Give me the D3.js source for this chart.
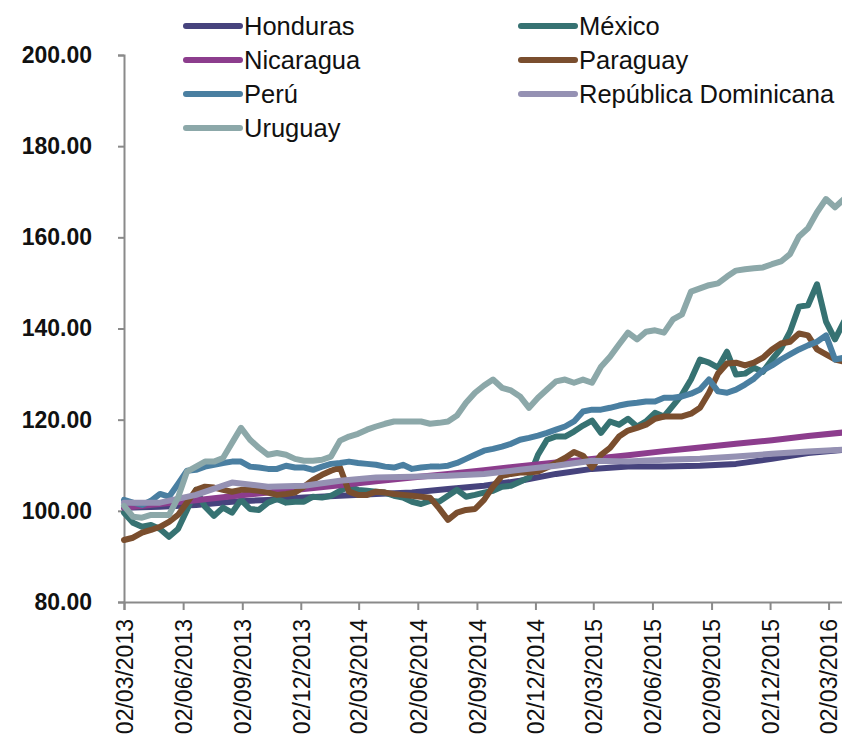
<!DOCTYPE html>
<meta charset="utf-8">
<body style="margin:0;background:#fff">
<script src="https://cdn.jsdelivr.net/npm/d3@7/dist/d3.min.js"></script>
<script>

// Two-week sampling for the noisy series, eight-week sampling for the smooth ones.
var startDate = new Date(2013, 2, 2);
var dates = d3.range(81).map(function(i) { return d3.timeDay.offset(startDate, i * 14); });
var smoothDates = d3.range(21).map(function(i) { return d3.timeDay.offset(startDate, i * 56); });

var tickLabels = ["02/03/2013", "02/06/2013", "02/09/2013", "02/12/2013",
                  "02/03/2014", "02/06/2014", "02/09/2014", "02/12/2014",
                  "02/03/2015", "02/06/2015", "02/09/2015", "02/12/2015",
                  "02/03/2016"];

var honduras = [100.7, 100.9, 101.3, 102.0, 102.4, 102.9, 103.3, 103.7, 104.0, 104.8, 105.5,
                106.6, 108.1, 109.2, 109.7, 109.7, 109.9, 110.3, 111.4, 112.7, 113.4];

var mexico = [99.6, 97.4, 96.5, 96.9, 96.0, 94.3, 96.0, 100.2, 104.6, 100.9,
              98.9, 100.7, 99.6, 102.4, 100.4, 100.2, 101.8, 102.6, 101.8, 102.0,
              102.0, 103.1, 102.9, 103.3, 104.4, 105.3, 104.6, 104.4, 104.2, 104.0,
              103.3, 102.9, 102.0, 101.5, 102.2, 102.0, 103.3, 104.6, 103.1, 103.5,
              104.0, 104.4, 105.3, 105.5, 106.4, 107.3, 112.3, 115.6, 116.3, 116.3,
              117.4, 118.7, 119.8, 117.1, 119.6, 118.9, 120.2, 118.5, 119.6, 121.5,
              120.7, 123.1, 125.5, 128.8, 133.2, 132.5, 131.4, 134.9, 129.9, 130.1,
              131.4, 130.5, 133.2, 135.6, 139.3, 144.8, 145.1, 149.7, 141.5, 137.6,
              141.5];

var nicaragua = [100.7, 101.5, 102.3, 103.2, 104.0, 104.8, 105.6, 106.5, 107.3, 108.1, 108.9,
                 109.8, 110.6, 111.4, 112.2, 113.1, 113.9, 114.7, 115.5, 116.4, 117.2];

var paraguay = [93.6, 94.1, 95.2, 95.8, 96.5, 97.6, 99.1, 101.8, 104.6, 105.3,
                105.1, 104.6, 104.2, 104.6, 104.6, 104.4, 104.0, 103.5, 103.7, 104.0,
                105.3, 106.8, 107.9, 108.8, 109.5, 104.2, 103.5, 103.5, 104.2, 104.0,
                103.7, 103.5, 103.3, 103.1, 102.9, 100.6, 98.0, 99.6, 100.2, 100.4,
                102.4, 105.3, 107.7, 108.1, 108.4, 108.4, 108.6, 109.5, 110.5, 111.6,
                112.9, 112.1, 109.5, 112.3, 113.8, 116.3, 117.6, 118.2, 118.9, 120.2,
                120.7, 120.7, 120.7, 121.3, 122.6, 125.9, 130.1, 132.3, 132.5, 131.9,
                132.5, 133.6, 135.4, 136.7, 137.1, 138.9, 138.5, 135.4, 134.3, 133.2,
                132.7];

var peru = [102.4, 101.8, 101.3, 102.2, 103.7, 103.1, 105.9, 108.8, 109.0, 109.7,
            110.1, 110.5, 110.8, 110.8, 109.7, 109.5, 109.2, 109.2, 109.9, 109.5,
            109.5, 109.0, 109.7, 110.3, 110.5, 110.8, 110.5, 110.3, 110.1, 109.7,
            109.5, 110.1, 109.2, 109.5, 109.7, 109.7, 109.9, 110.5, 111.4, 112.3,
            113.2, 113.6, 114.1, 114.7, 115.6, 116.0, 116.5, 117.1, 117.8, 118.5,
            119.6, 121.8, 122.2, 122.2, 122.6, 123.1, 123.5, 123.7, 124.0, 124.0,
            124.8, 124.8, 125.1, 125.7, 126.6, 128.8, 126.2, 125.9, 126.6, 127.7,
            129.0, 130.8, 131.9, 133.2, 134.3, 135.4, 136.3, 137.1, 138.5, 133.2,
            133.6];

var repDominicana = [101.8, 101.8, 103.5, 106.2, 105.3, 105.5, 106.6, 107.3, 107.5, 107.7, 108.1,
                     109.0, 109.9, 111.0, 110.8, 111.2, 111.4, 111.9, 112.5, 113.0, 113.4];

var uruguay = [101.1, 98.7, 98.5, 99.1, 99.1, 99.1, 102.9, 108.6, 109.7, 110.8,
               110.8, 111.6, 114.9, 118.2, 115.6, 113.8, 112.3, 112.7, 112.3, 111.4,
               111.0, 111.0, 111.2, 111.9, 115.4, 116.3, 116.9, 117.8, 118.5, 119.1,
               119.6, 119.6, 119.6, 119.6, 119.1, 119.3, 119.6, 120.9, 123.7, 125.9,
               127.5, 128.8, 127.0, 126.4, 125.1, 122.6, 124.8, 126.6, 128.4, 128.8,
               128.1, 128.8, 128.1, 131.6, 133.8, 136.5, 139.1, 137.6, 139.3, 139.6,
               139.1, 142.0, 143.1, 148.1, 148.8, 149.5, 149.9, 151.4, 152.7, 153.0,
               153.2, 153.4, 154.1, 154.7, 156.3, 160.2, 162.0, 165.5, 168.4, 166.6,
               168.4];

// Excel draw order: later series sit on top.
var series = [
  {name: "Honduras", values: honduras, dates: smoothDates, color: "#46437d"},
  {name: "México", values: mexico, dates: dates, color: "#367272"},
  {name: "Nicaragua", values: nicaragua, dates: smoothDates, color: "#8c3d8d"},
  {name: "Paraguay", values: paraguay, dates: dates, color: "#7a4e2e"},
  {name: "Perú", values: peru, dates: dates, color: "#4a7fa1"},
  {name: "República Dominicana", values: repDominicana, dates: smoothDates, color: "#9591b3"},
  {name: "Uruguay", values: uruguay, dates: dates, color: "#8ca8a9"}
];

var width = 842, height = 738;

var svg = d3.select("body").append("svg")
    .attr("width", width)
    .attr("height", height)
    .style("display", "block");

var x = d3.scaleTime()
    .domain([startDate, d3.timeDay.offset(startDate, 1120)])
    .range([124, 844]);
var y = d3.scaleLinear().domain([80, 200]).range([602, 55]);

var parseTick = d3.timeParse("%d/%m/%Y");

// axes
var xAxis = d3.axisBottom(x)
    .tickValues(tickLabels.map(parseTick))
    .tickFormat(d3.timeFormat("%d/%m/%Y"))
    .tickSizeOuter(0)
    .tickSize(8);

var yAxis = d3.axisLeft(y)
    .tickValues(d3.range(80, 201, 20))
    .tickFormat(d3.format(".2f"))
    .tickSizeOuter(0)
    .tickSize(6)
    .tickPadding(26);

var gx = svg.append("g")
    .attr("transform", "translate(0,602)")
    .call(xAxis);
gx.selectAll("text")
    .attr("transform", "rotate(-90)")
    .attr("x", -17)
    .attr("y", 0)
    .attr("dy", "0.36em")
    .style("text-anchor", "end")
    .style("font-family", "Liberation Sans, Arial, sans-serif")
    .style("font-size", "23px")
    .style("fill", "#111");

var gy = svg.append("g")
    .attr("transform", "translate(124,0)")
    .call(yAxis);
gy.selectAll("text")
    .style("font-family", "Liberation Sans, Arial, sans-serif")
    .style("font-size", "23px")
    .style("font-weight", "bold")
    .style("fill", "#111");

svg.selectAll(".domain, .tick line")
    .attr("stroke", "#8a8a8a")
    .attr("stroke-width", 2);

// lines
var line = d3.line()
    .x(function(d) { return x(d[0]); })
    .y(function(d) { return y(d[1]); });

svg.append("g").selectAll("path")
  .data(series)
  .enter().append("path")
    .attr("fill", "none")
    .attr("stroke", function(d) { return d.color; })
    .attr("stroke-width", 6)
    .attr("stroke-linejoin", "round")
    .attr("stroke-linecap", "round")
    .attr("d", function(d) {
      return line(d.values.map(function(v, i) { return [d.dates[i], v]; }));
    });

// legend, two columns
var legend = svg.append("g").selectAll("g")
  .data(series)
  .enter().append("g")
    .attr("transform", function(d, i) {
      return "translate(" + (i % 2 ? 521 : 186) + "," + (26 + Math.floor(i / 2) * 34) + ")";
    });

legend.append("line")
    .attr("x1", 0).attr("x2", 54)
    .attr("stroke", function(d) { return d.color; })
    .attr("stroke-width", 6)
    .attr("stroke-linecap", "round");

legend.append("text")
    .attr("x", 58)
    .attr("dy", "0.36em")
    .style("font-family", "Liberation Sans, Arial, sans-serif")
    .style("font-size", "25.5px")
    .style("fill", "#111")
    .text(function(d) { return d.name; });

</script>
</body>
